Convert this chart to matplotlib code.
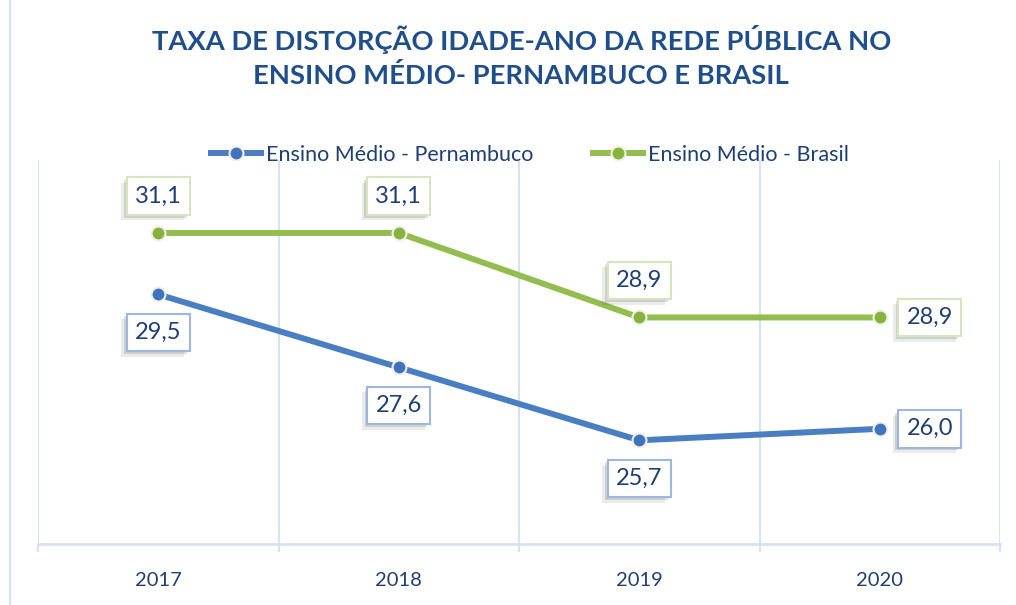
import matplotlib
matplotlib.use("Agg")
import matplotlib.pyplot as plt
import matplotlib.patheffects as pe

anos = ["2017", "2018", "2019", "2020"]
pernambuco = [29.5, 27.6, 25.7, 26.0]
brasil = [31.1, 31.1, 28.9, 28.9]

azul = "#4A7EC3"
verde = "#93BD4E"
texto = "#1F3F73"
grade = "#D6E2F2"

plt.rcParams["font.family"] = ["Lato", "DejaVu Sans"]

fig = plt.figure(figsize=(10.16, 6.05), dpi=100)
ax = fig.add_axes([38 / 1016, 61 / 605, 962 / 1016, 384 / 605])

x = list(range(len(anos)))
ax.plot(x, brasil, color=verde, lw=4.3, marker="o", ms=10,
        mfc="#86B23E", mec="#F2F0E6", mew=1.5, solid_capstyle="butt",
        label="Ensino Médio - Brasil", zorder=3)
ax.plot(x, pernambuco, color=azul, lw=4.3, marker="o", ms=10,
        mfc="#3F73BD", mec="#F2F0E6", mew=1.5, solid_capstyle="butt",
        label="Ensino Médio - Pernambuco", zorder=3)

ax.set_xlim(-0.5, 3.5)
ax.set_ylim(23, 33)

# rótulos de dados
def rotulo(xi, yi, dx, dy, borda):
    t = ax.annotate(f"{yi:.1f}".replace(".", ","), (xi, yi),
                    xytext=(dx, dy), textcoords="offset pixels",
                    ha="center", va="center", fontsize=17, color=texto,
                    bbox=dict(boxstyle="square,pad=0.35", fc="white",
                              ec=borda, lw=1.5), zorder=5)
    t.get_bbox_patch().set_path_effects(
        [pe.SimplePatchShadow(offset=(-4, -4), shadow_rgbFace="black", alpha=0.08),
         pe.SimplePatchShadow(offset=(-2, -2), shadow_rgbFace="black", alpha=0.12),
         pe.Normal()])

for i, v in enumerate(brasil):
    if i == 3:
        rotulo(i, v, 50, 0, "#D5E5BE")
    else:
        rotulo(i, v, 0, 37, "#D5E5BE")
for i, v in enumerate(pernambuco):
    if i == 3:
        rotulo(i, v, 50, 0, "#9DB7E0")
    else:
        rotulo(i, v, 0, -38, "#9DB7E0")

ax.set_xticks(x)
ax.set_xticklabels(anos, fontsize=14.5, color=texto)
ax.set_xticks([-0.5, 0.5, 1.5, 2.5, 3.5], minor=True)
ax.tick_params(axis="x", which="major", length=0, pad=20)
ax.tick_params(axis="x", which="minor", length=6, width=1.5, color=grade)
ax.set_yticks([])
ax.grid(axis="x", which="minor", color=grade, lw=1.5)
for s in ["top", "right", "left"]:
    ax.spines[s].set_visible(False)
ax.spines["bottom"].set_color(grade)
ax.spines["bottom"].set_linewidth(2)

# borda externa
fig.add_artist(plt.Line2D([10 / 1016, 10 / 1016], [0, 1], color=grade, lw=1.5))

fig.text(0.513, 1 - 40 / 605, "TAXA DE DISTORÇÃO IDADE-ANO DA REDE PÚBLICA NO",
         ha="center", va="center", fontsize=19.7, fontweight="bold", color="#1F4E8C")
fig.text(0.513, 1 - 76 / 605, "ENSINO MÉDIO- PERNAMBUCO E BRASIL",
         ha="center", va="center", fontsize=19.7, fontweight="bold", color="#1F4E8C")

h, l = ax.get_legend_handles_labels()
fig.legend(h[::-1], l[::-1], loc="center", bbox_to_anchor=(0.52, 1 - 155 / 605),
           ncol=2, frameon=False, fontsize=15.5, labelcolor=texto,
           handlelength=2.6, handletextpad=0.1, columnspacing=2.6)

fig.savefig("out.png", dpi=100)
